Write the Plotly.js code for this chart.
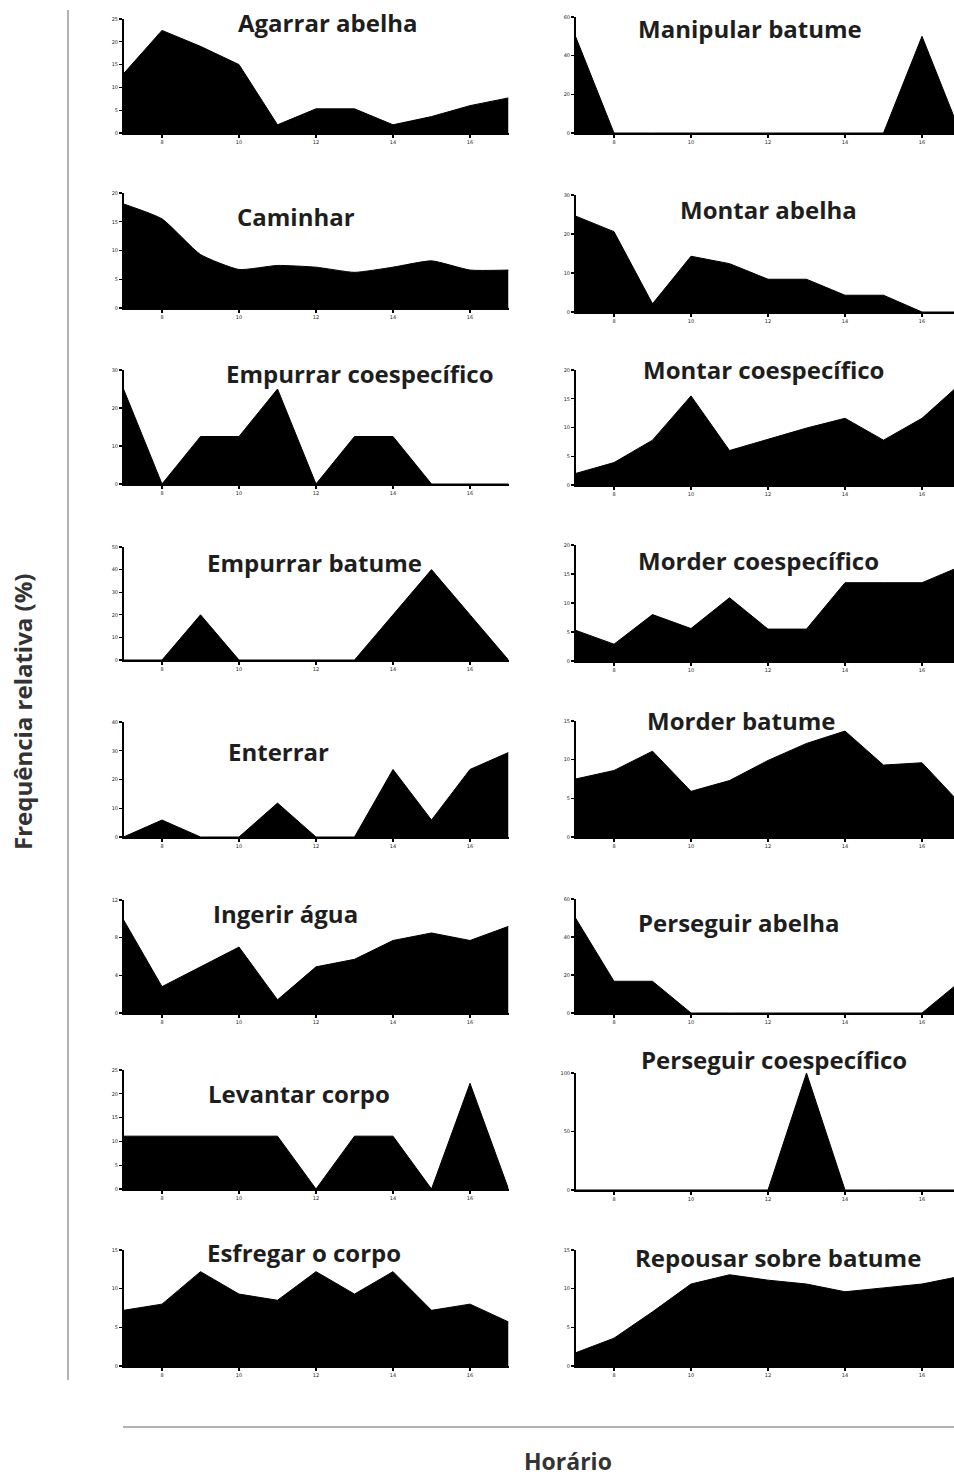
<!DOCTYPE html>
<html>
<head>
<meta charset="utf-8">
<script src="https://cdn.plot.ly/plotly-3.0.1.min.js"></script>
<style>html,body{margin:0;padding:0;background:#fff;}#chart{width:954px;height:1479px;}</style>
</head>
<body>
<div id="chart"></div>
<script>
// ---------------- DATA ----------------
const hours = [7, 8, 9, 10, 11, 12, 13, 14, 15, 16, 17];
const xTicks = [8, 10, 12, 14, 16];

const titlesLeft = ["Agarrar abelha", "Caminhar", "Empurrar coespecífico", "Empurrar batume",
                    "Enterrar", "Ingerir água", "Levantar corpo", "Esfregar o corpo"];
const titlesRight = ["Manipular batume", "Montar abelha", "Montar coespecífico", "Morder coespecífico",
                     "Morder batume", "Perseguir abelha", "Perseguir coespecífico", "Repousar sobre batume"];

const agarrarAbelha        = [13, 22.5, 19, 15, 1.8, 5.3, 5.3, 1.8, 3.6, 6, 7.7];
const caminhar             = [18.1, 15.5, 9.3, 6.7, 7.4, 7.1, 6.2, 7.1, 8.2, 6.6, 6.6];
const empurrarCoespecifico = [25, 0, 12.5, 12.5, 25, 0, 12.5, 12.5, 0, 0, 0];
const empurrarBatume       = [0, 0, 20, 0, 0, 0, 0, 20, 40, 20, 0];
const enterrar             = [0, 5.9, 0, 0, 11.8, 0, 0, 23.5, 5.9, 23.5, 29.4];
const ingerirAgua          = [9.9, 2.8, 4.9, 7.0, 1.4, 4.9, 5.7, 7.7, 8.5, 7.7, 9.2];
const levantarCorpo        = [11.1, 11.1, 11.1, 11.1, 11.1, 0, 11.1, 11.1, 0, 22.2, 0];
const esfregarCorpo        = [7.2, 8.0, 12.2, 9.3, 8.5, 12.2, 9.3, 12.2, 7.2, 8.0, 5.7];

const manipularBatume       = [50, 0, 0, 0, 0, 0, 0, 0, 0, 50, 0];
const montarAbelha          = [24.6, 20.6, 2.1, 14.3, 12.4, 8.4, 8.4, 4.3, 4.3, 0, 0];
const montarCoespecifico    = [2.0, 3.9, 7.8, 15.5, 6.0, 7.9, 9.9, 11.6, 7.8, 11.6, 17.6];
const morderCoespecifico    = [5.3, 2.9, 8.0, 5.6, 10.9, 5.5, 5.5, 13.5, 13.5, 13.5, 16.3];
const morderBatume          = [7.5, 8.6, 11.1, 5.9, 7.3, 9.9, 12.1, 13.7, 9.3, 9.6, 4.3];
const perseguirAbelha       = [50, 16.7, 16.7, 0, 0, 0, 0, 0, 0, 0, 16.7];
const perseguirCoespecifico = [0, 0, 0, 0, 0, 0, 100, 0, 0, 0, 0];
const repousarBatume        = [1.7, 3.6, 7.0, 10.6, 11.8, 11.1, 10.6, 9.6, 10.1, 10.6, 11.6];

const seriesLeft  = [agarrarAbelha, caminhar, empurrarCoespecifico, empurrarBatume, enterrar, ingerirAgua, levantarCorpo, esfregarCorpo];
const seriesRight = [manipularBatume, montarAbelha, montarCoespecifico, morderCoespecifico, morderBatume, perseguirAbelha, perseguirCoespecifico, repousarBatume];

const yTicksLeft  = [[0,5,10,15,20,25],[0,5,10,15,20],[0,10,20,30],[0,10,20,30,40,50],[0,10,20,30,40],[0,4,8,12],[0,5,10,15,20,25],[0,5,10,15]];
const yTicksRight = [[0,20,40,60],[0,10,20,30],[0,5,10,15,20],[0,5,10,15,20],[0,5,10,15],[0,20,40,60],[0,50,100],[0,5,10,15]];

// ---------------- LAYOUT (pixels) ----------------
const W = 954, H = 1479;
const colX = [[123.5, 508.5], [575.5, 954]];
const pxPerHour = 38.5;
const rows = [
  [[19,133],[193,308],[370,484],[547,660],[722,837],[900,1013],[1070,1189],[1250,1366]],
  [[17,133],[195,312],[370,485],[545,661],[721,837],[899,1013],[1073,1190],[1250,1366]]
];
const titlePos = [
  [[328,22],[296,216],[360,373],[314,562],[278,751],[285,913],[299,1093],[304,1252]],
  [[750,28],[768,210],[763,370],[758,560],[741,720],[739,923],[774,1059],[778,1257]]
];

const px = x => x / W;
const py = y => 1 - y / H;

const traces = [];
const layout = {
  width: W, height: H,
  margin: {l:0, r:0, t:0, b:0},
  paper_bgcolor: '#fff', plot_bgcolor: '#fff',
  showlegend: false,
  annotations: [], shapes: []
};

const titleFont = {family: 'Open Sans, sans-serif', size: 24, color: '#1e1e1e', weight: 'bold'};
const tickFont = {family: 'DejaVu Sans, sans-serif', size: 5, color: '#222'};

let k = 0;
[seriesLeft, seriesRight].forEach((col, c) => {
  const titles = c === 0 ? titlesLeft : titlesRight;
  const yt = c === 0 ? yTicksLeft : yTicksRight;
  col.forEach((vals, r) => {
    k++;
    const xa = k === 1 ? 'xaxis' : 'xaxis' + k;
    const ya = k === 1 ? 'yaxis' : 'yaxis' + k;
    traces.push({
      x: hours, y: vals, type: 'scatter', mode: 'lines',
      fill: 'tozeroy', fillcolor: '#000',
      line: {color: '#000', width: 1, shape: (titles[r] === 'Caminhar') ? 'spline' : 'linear', smoothing: 0.5},
      xaxis: 'x' + (k === 1 ? '' : k), yaxis: 'y' + (k === 1 ? '' : k),
      hoverinfo: 'skip'
    });
    const xr = [7, 7 + (colX[c][1] - colX[c][0]) / pxPerHour];
    layout[xa] = {
      domain: [px(colX[c][0]), px(colX[c][1])],
      range: xr, anchor: 'y' + (k === 1 ? '' : k),
      tickvals: xTicks, ticktext: xTicks.map(String),
      showline: true, linecolor: '#000', linewidth: 1.5,
      ticks: 'outside', ticklen: 3, tickwidth: 1.2, tickcolor: '#000',
      showgrid: false, zeroline: false, tickfont: tickFont, fixedrange: true
    };
    const ticks = yt[r];
    layout[ya] = {
      domain: [py(rows[c][r][1]), py(rows[c][r][0])],
      range: [0, ticks[ticks.length - 1]], anchor: 'x' + (k === 1 ? '' : k),
      tickvals: ticks, ticktext: ticks.map(String),
      showline: true, linecolor: '#000', linewidth: 1.5,
      ticks: 'outside', ticklen: 3, tickwidth: 1.2, tickcolor: '#000',
      showgrid: false, zeroline: false, tickfont: tickFont, fixedrange: true
    };
    layout.annotations.push({
      text: titles[r], xref: 'paper', yref: 'paper',
      x: px(titlePos[c][r][0]), y: py(titlePos[c][r][1]),
      xanchor: 'center', yanchor: 'middle', showarrow: false,
      font: titleFont
    });
  });
});

// Overall axis labels and guide lines
layout.annotations.push({
  text: 'Frequência relativa (%)', xref: 'paper', yref: 'paper',
  x: px(22), y: py(712), xanchor: 'center', yanchor: 'middle',
  textangle: -90, showarrow: false,
  font: {family: 'Open Sans, sans-serif', size: 24, color: '#333', weight: 'bold'}
});
layout.annotations.push({
  text: 'Horário', xref: 'paper', yref: 'paper',
  x: px(568), y: py(1461), xanchor: 'center', yanchor: 'middle',
  showarrow: false,
  font: {family: 'Open Sans, sans-serif', size: 23, color: '#333', weight: 'bold'}
});
layout.shapes.push({type: 'line', xref: 'paper', yref: 'paper',
  x0: px(68), x1: px(68), y0: py(10), y1: py(1380), line: {color: '#999', width: 1.5}});
layout.shapes.push({type: 'line', xref: 'paper', yref: 'paper',
  x0: px(123), x1: px(954), y0: py(1427), y1: py(1427), line: {color: '#999', width: 1.5}});

Plotly.newPlot('chart', traces, layout, {staticPlot: true, displayModeBar: false});
</script>
</body>
</html>
